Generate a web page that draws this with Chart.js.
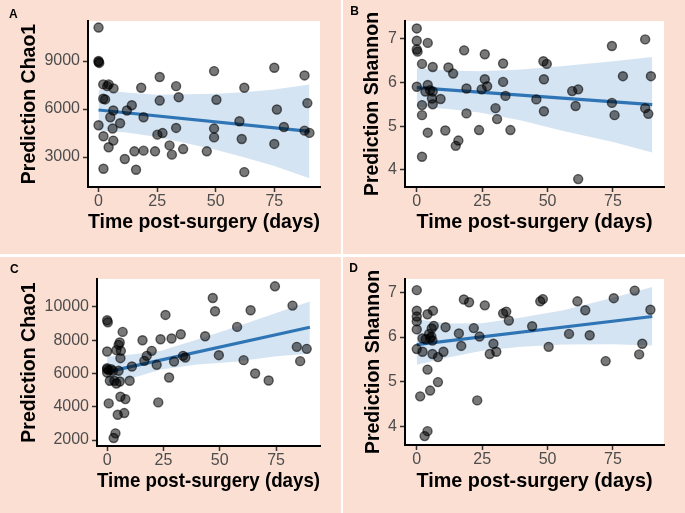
<!DOCTYPE html>
<html>
<head>
<meta charset="utf-8">
<script src="https://cdn.jsdelivr.net/npm/chart.js@4.4.1/dist/chart.umd.min.js"></script>
<style>
    body { margin: 0; background: #fff; width: 685px; height: 513px; position: relative; overflow: hidden; }
    canvas { position: absolute; background: #fbdfd2; }
</style>
</head>
<body>
<canvas id="chartA" width="341" height="254" style="left:0;top:0"></canvas>
<canvas id="chartB" width="342" height="254" style="left:343px;top:0"></canvas>
<canvas id="chartC" width="341" height="256" style="left:0;top:257px"></canvas>
<canvas id="chartD" width="342" height="256" style="left:343px;top:257px"></canvas>
<script>
// ---- data ----
var dayTicks      = [0, 25, 50, 75];
var chaoTicksA    = [3000, 6000, 9000];
var shannonTicksB = [4, 5, 6, 7];
var chaoTicksC    = [2000, 4000, 6000, 8000, 10000];
var shannonTicksD = [4, 5, 6, 7];

// A: Chao1 vs time
var daysA   = [0, 0, 0, 0.3, 0, 2, 4.3, 3.7, 6.4, 2, 2.8, 6.3, 5, 6, 2.1, 6.3, 4.3, 2.1, 9.2, 12.1, 14.2, 11.2, 15.3, 16,
               18.2, 19.2, 19.2, 24.1, 25.1, 26.1, 26.1, 27.3, 30.3, 31.3, 33.1, 33.1, 34.2, 36.1, 46.2, 49.3, 49.3, 49.3,
               50.3, 60.1, 61.1, 62.2, 62.2, 75, 76.1, 75, 79.1, 87.9, 89.1, 87.9, 90];
var chaoA   = [11090, 9000, 8940, 8880, 4990, 7540, 7540, 7430, 7290, 6640, 6600, 5910, 5490, 4780, 4300, 4030, 3610, 2270,
               5110, 5910, 6240, 2880, 3360, 2210, 7330, 5490, 3400, 3360, 4400, 8000, 6530, 4500, 3730, 3150, 7430, 4820,
               6740, 3500, 3360, 8370, 4780, 4230, 6580, 5240, 4130, 7330, 2060, 8580, 5970, 3820, 4880, 8100, 6370, 4650, 4510];
var fitDaysA  = [0, 90];
var fitA      = [5940, 4610];
var bandDaysA = [0, 12, 25, 38, 50, 62, 75, 90];
var upperA    = [7220, 7030, 6900, 6920, 6950, 7050, 7220, 7540];
var lowerA    = [4660, 4540, 4260, 3840, 3450, 2990, 2440, 1680];

// B: Shannon vs time
var daysB    = [0, 0, 0, 0.3, 4.2, 0, 2, 6.1, 2, 2, 2, 4.2, 3.3, 5.1, 6.1, 5.8, 6.1, 4.2, 9.1, 12.1, 13.9, 10.9, 14.9, 15.9,
                18.1, 19, 19, 23.8, 24.8, 26, 26, 26.9, 30.1, 30.7, 33, 33, 33.9, 35.8, 45.7, 48.4, 49.7, 48.6, 48.6, 59.4,
                61.7, 60.7, 61.7, 74.6, 74.6, 75.6, 78.8, 87.3, 87.3, 89.5, 88.5];
var shannonB = [7.23, 6.95, 6.75, 6.70, 6.90, 5.90, 6.42, 6.35, 5.48, 5.25, 4.30, 5.94, 5.79, 5.82, 5.79, 5.63, 5.50, 4.85,
                5.62, 6.34, 6.20, 4.90, 4.55, 4.67, 6.73, 5.86, 5.29, 4.91, 5.84, 6.64, 6.07, 5.91, 5.41, 5.16, 6.43, 6.01,
                5.69, 4.91, 5.61, 6.48, 6.42, 6.07, 5.34, 5.80, 5.84, 5.46, 3.79, 6.83, 5.53, 5.25, 6.14, 6.98, 5.41, 6.14, 5.28];
var fitDaysB  = [0, 90];
var fitB      = [5.88, 5.49];
var bandDaysB = [0, 12, 24, 40, 56, 75, 90];
var upperB    = [6.32, 6.27, 6.25, 6.29, 6.37, 6.48, 6.58];
var lowerB    = [5.44, 5.39, 5.31, 5.13, 4.89, 4.64, 4.40];

// C: Chao1 vs time
var daysC   = [0, 0.3, 6.9, 0, 4.1, 5.6, 5.1, 6.1, 5.9, 0, 0, 0.7, 1.8, 0, 2.6, 5.1, 1.2, 3.2, 5.6, 4.1, 10, 0.7, 5.9, 8.1,
               4.7, 7.6, 3.7, 2.9, 11, 15.7, 19.8, 17.6, 16.5, 22, 22.7, 23.7, 28.6, 32.7, 25.9, 27.5, 29.7, 33.7, 34.7,
               43.5, 46.9, 47.9, 49.6, 57.7, 60.6, 63.7, 65.7, 71.7, 74.5, 82.3, 84.2, 85.7, 88.6];
var chaoC   = [9200, 9080, 8500, 7320, 7400, 7860, 7720, 7360, 6920, 6320, 6260, 6200, 6260, 6060, 6160, 6160, 5560, 5560,
               5520, 5400, 5560, 4200, 4600, 4460, 3520, 3620, 2400, 2120, 6420, 8000, 7360, 7060, 6760, 6520, 4260, 8060,
               8100, 8360, 9520, 5760, 6720, 7060, 6960, 8240, 10540, 9740, 7100, 8800, 6800, 9800, 6000, 5580, 11240,
               10080, 7600, 6740, 7480];
var fitDaysC  = [0, 90];
var fitC      = [6100, 8780];
var bandDaysC = [0, 12, 24, 40, 57, 75, 90];
var upperC    = [7000, 7160, 7360, 8040, 8800, 9630, 10330];
var lowerC    = [5200, 5760, 6240, 6540, 6700, 7030, 7180];

// D: Shannon vs time
var daysD    = [0, 0, 0, 0, 0, 0, 4.1, 6.2, 6.5, 5.7, 2.2, 3.4, 5.1, 5.6, 4.7, 6.0, 2.2, 6, 8.1, 10.2, 11, 4.1, 8.1, 5.1,
                1.3, 4.1, 3, 16.1, 17, 18, 20, 21.8, 24, 23.1, 26, 27.9, 29.3, 30.4, 33, 34.2, 35.2, 44.1, 47.2, 48.2, 50.4,
                58.2, 61.4, 64.4, 66.1, 72.2, 75.3, 83.3, 85, 86.2, 89.3];
var shannonD = [7.05, 6.59, 6.46, 6.35, 6.17, 5.73, 6.51, 6.59, 6.25, 6.19, 5.97, 5.95, 5.97, 6.01, 6.07, 5.92, 5.67, 5.62,
                5.55, 5.67, 6.22, 5.27, 4.99, 4.80, 4.67, 3.89, 3.78, 6.08, 5.80, 6.84, 6.78, 6.20, 6.01, 4.58, 6.71, 5.62,
                5.85, 5.67, 6.53, 6.57, 6.37, 6.24, 6.80, 6.85, 5.78, 6.07, 6.80, 6.60, 6.04, 5.46, 6.87, 7.04, 5.61, 5.85, 6.61];
var fitDaysD  = [0, 90];
var fitD      = [5.83, 6.46];
var bandDaysD = [0, 12, 25, 40, 56, 75, 90];
var upperD    = [6.40, 6.30, 6.31, 6.44, 6.60, 6.88, 7.12];
var lowerD    = [5.38, 5.54, 5.69, 5.78, 5.83, 5.84, 5.81];

// ---- drawing ----
var FONT = '"Liberation Sans", Arial, Helvetica, sans-serif';
var BAND = 'rgba(66,133,194,0.22)';
var LINE = '#2f75b5';
Chart.defaults.font.family = FONT;

function pairs(xs, ys) {
    return xs.map(function (x, i) { return { x: x, y: ys[i] }; });
}

var plotBg = {
    id: 'plotBg',
    beforeDraw: function (chart) {
        var a = chart.chartArea, ctx = chart.ctx;
        ctx.save();
        ctx.fillStyle = '#fff';
        ctx.fillRect(a.left, a.top, a.right - a.left, a.bottom - a.top);
        ctx.restore();
    }
};

var panelLetter = {
    id: 'panelLetter',
    afterDraw: function (chart, args, opts) {
        var ctx = chart.ctx;
        ctx.save();
        ctx.font = 'bold 12px ' + FONT;
        ctx.fillStyle = '#000';
        ctx.textBaseline = 'alphabetic';
        ctx.fillText(opts.text, opts.x, opts.y);
        ctx.restore();
    }
};

function makePanel(p) {
    return new Chart(document.getElementById(p.canvas), {
        type: 'scatter',
        data: {
            datasets: [
                { type: 'line', data: pairs(p.bandDays, p.upper), borderColor: 'transparent', borderWidth: 0,
                  pointRadius: 0, fill: '+1', backgroundColor: BAND, order: 3 },
                { type: 'line', data: pairs(p.bandDays, p.lower), borderColor: 'transparent', borderWidth: 0,
                  pointRadius: 0, fill: false, order: 4 },
                { type: 'line', data: pairs(p.fitDays, p.fit), borderColor: LINE, borderWidth: 3.2,
                  pointRadius: 0, fill: false, order: 2 },
                { data: pairs(p.days, p.values), pointRadius: 4.5, borderWidth: 1.4,
                  backgroundColor: 'rgba(0,0,0,0.53)', borderColor: 'rgba(0,0,0,0.58)', clip: false, order: 1 },
            ],
        },
        options: {
            responsive: false,
            animation: false,
            events: [],
            layout: { autoPadding: false, padding: { left: 0, right: p.padRight, top: p.padTop, bottom: 0 } },
            plugins: {
                legend: { display: false },
                tooltip: { enabled: false },
                panelLetter: { text: p.letter, x: p.letterX, y: p.letterY },
            },
            scales: {
                x: {
                    type: 'linear',
                    min: -4.5, max: 94.5,
                    afterBuildTicks: function (s) { s.ticks = dayTicks.map(function (v) { return { value: v }; }); },
                    afterFit: function (s) { s.height = p.xAxisH; },
                    grid: { drawOnChartArea: false, tickLength: 5, tickColor: '#333', tickWidth: 1.5 },
                    border: { color: '#000', width: 2 },
                    ticks: { color: '#4d4d4d', font: { size: 16 }, padding: 0, maxRotation: 0, autoSkip: false },
                    title: { display: true, text: 'Time post-surgery (days)', color: '#000',
                             font: { size: 19.8, weight: 'bold' }, padding: { top: 0, bottom: 19.3 } },
                },
                y: {
                    min: p.yMin, max: p.yMax,
                    afterBuildTicks: function (s) { s.ticks = p.yTicks.map(function (v) { return { value: v }; }); },
                    afterFit: function (s) { s.width = p.yAxisW; },
                    grid: { drawOnChartArea: false, tickLength: 5, tickColor: '#333', tickWidth: 1.5 },
                    border: { color: '#000', width: 2 },
                    ticks: { color: '#4d4d4d', font: { size: 16 }, padding: 3,
                             callback: function (v) { return String(v); } },
                    title: { display: true, text: p.yTitle, color: '#000',
                             font: { size: 19.5, weight: 'bold' }, padding: { top: p.yTitlePad, bottom: 0 } },
                },
            },
        },
        plugins: [plotBg, panelLetter],
    });
}

makePanel({ canvas: 'chartA', letter: 'A', letterX: 9, letterY: 18.3, yTitle: 'Prediction Chao1',
            days: daysA, values: chaoA, fitDays: fitDaysA, fit: fitA, bandDays: bandDaysA, upper: upperA, lower: lowerA,
            yMin: 1130, yMax: 11500, yTicks: chaoTicksA,
            yAxisW: 88, xAxisH: 67, padTop: 21, padRight: 21, yTitlePad: 17.5 });

makePanel({ canvas: 'chartB', letter: 'B', letterX: 7.3, letterY: 15, yTitle: 'Prediction Shannon',
            days: daysB, values: shannonB, fitDays: fitDaysB, fit: fitB, bandDays: bandDaysB, upper: upperB, lower: lowerB,
            yMin: 3.61, yMax: 7.40, yTicks: shannonTicksB,
            yAxisW: 62, xAxisH: 67, padTop: 21, padRight: 21, yTitlePad: 18.1 });

makePanel({ canvas: 'chartC', letter: 'C', letterX: 10, letterY: 16.3, yTitle: 'Prediction Chao1',
            days: daysC, values: chaoC, fitDays: fitDaysC, fit: fitC, bandDays: bandDaysC, upper: upperC, lower: lowerC,
            yMin: 1640, yMax: 11680, yTicks: chaoTicksC,
            yAxisW: 97, xAxisH: 67, padTop: 22, padRight: 21, yTitlePad: 17.5 });

makePanel({ canvas: 'chartD', letter: 'D', letterX: 6.3, letterY: 15, yTitle: 'Prediction Shannon',
            days: daysD, values: shannonD, fitDays: fitDaysD, fit: fitD, bandDays: bandDaysD, upper: upperD, lower: lowerD,
            yMin: 3.58, yMax: 7.30, yTicks: shannonTicksD,
            yAxisW: 62, xAxisH: 68, padTop: 22, padRight: 21, yTitlePad: 18.5 });
</script>
</body>
</html>
